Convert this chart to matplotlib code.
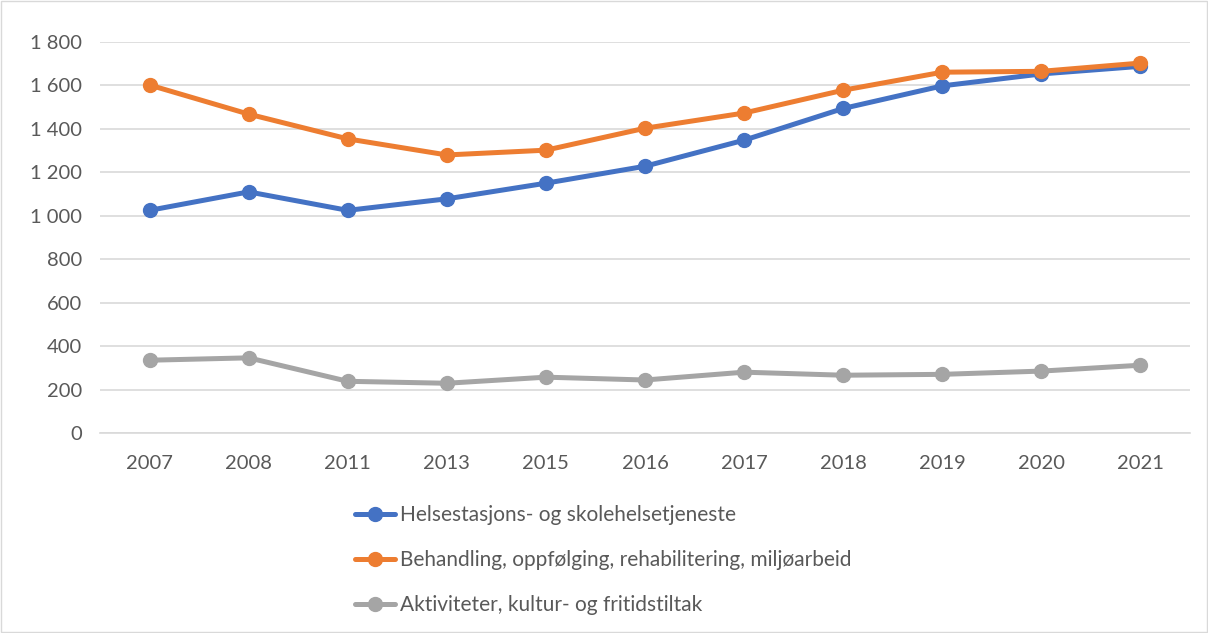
import matplotlib
matplotlib.use("Agg")
import matplotlib.pyplot as plt
from matplotlib.ticker import FuncFormatter, MultipleLocator
from matplotlib.patches import Rectangle

plt.rcParams["font.family"] = ["Lato", "DejaVu Sans"]

years = ["2007", "2008", "2011", "2013", "2015", "2016", "2017", "2018", "2019", "2020", "2021"]
helse = [1025, 1110, 1025, 1078, 1150, 1228, 1348, 1494, 1598, 1653, 1688]
behandling = [1602, 1468, 1354, 1280, 1302, 1403, 1473, 1578, 1661, 1665, 1703]
aktivitet = [335, 346, 238, 229, 257, 244, 280, 266, 270, 285, 312]
labels = ["Helsestasjons- og skolehelsetjeneste",
          "Behandling, oppfølging, rehabilitering, miljøarbeid",
          "Aktiviteter, kultur- og fritidstiltak"]
colors = ["#4472C4", "#ED7D31", "#A5A5A5"]

fig = plt.figure(figsize=(12.08, 6.33), dpi=100)
ax = fig.add_axes([100 / 1208, 1 - 433 / 633, 1090 / 1208, 391 / 633])

x = range(len(years))
for vals, lab, c in zip([helse, behandling, aktivitet], labels, colors):
    ax.plot(x, vals, color=c, lw=3.6, marker="o", ms=10, label=lab,
            solid_capstyle="round")

ax.set_xlim(-0.5, len(years) - 0.5)
ax.set_ylim(0, 1800)
ax.set_xticks(list(x))
ax.set_xticklabels(years)
ax.yaxis.set_major_locator(MultipleLocator(200))
ax.yaxis.set_major_formatter(FuncFormatter(lambda v, p: f"{int(v):,}".replace(",", " ")))
ax.tick_params(length=0, labelsize=14.5, colors="#595959")
ax.tick_params(axis="x", pad=16)
ax.tick_params(axis="y", pad=13)
ax.grid(axis="y", color="#D9D9D9", lw=1.2)
ax.set_axisbelow(True)
for s in ["top", "right", "left"]:
    ax.spines[s].set_visible(False)
ax.spines["bottom"].set_color("#D9D9D9")
ax.spines["bottom"].set_linewidth(1.2)

fig.legend(loc="upper left", bbox_to_anchor=(355 / 1208, 1 - 505 / 633),
           frameon=False, fontsize=15, labelcolor="#595959",
           handlelength=1.9, handletextpad=0.25, labelspacing=1.2,
           borderaxespad=0, borderpad=0)

fig.patches.append(Rectangle((0.001, 0.001), 0.998, 0.998, transform=fig.transFigure,
                             fill=False, edgecolor="#D9D9D9", lw=1))

fig.savefig("out.png", dpi=100)
